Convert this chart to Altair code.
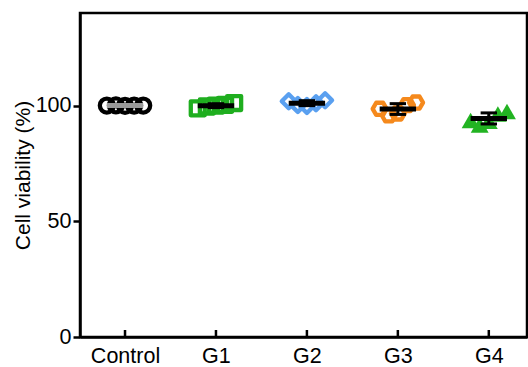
import altair as alt
import pandas as pd

groups = ["Control", "G1", "G2", "G3", "G4"]
control = [100.0, 100.1, 99.9, 100.0, 100.0]
g1 = [98.8, 99.6, 100.0, 100.3, 101.1]
g2 = [101.9, 100.2, 99.8, 101.0, 102.3]
g3 = [98.6, 95.8, 96.6, 100.2, 101.3]
g4 = [93.6, 91.6, 93.2, 96.4, 97.4]

series = [control, g1, g2, g3, g4]
colors = ["#000000", "#1fae1f", "#5aa0f0", "#f5891c", "#22b322"]
hexagon = "M-1,0L-0.5,-0.866L0.5,-0.866L1,0L0.5,0.866L-0.5,0.866Z"
shapes = ["circle", "square", "diamond", hexagon, "triangle-up"]

rows = []
for gi, (g, vals) in enumerate(zip(groups, series)):
    for r, v in enumerate(vals):
        rows.append({"group": g, "idx": gi, "rep": r, "value": v})
df = pd.DataFrame(rows)

FONT = "Liberation Sans"
xscale = alt.Scale(domain=[-0.495, 4.42], nice=False, zero=False)
yscale = alt.Scale(domain=[0, 140], nice=False)
label_expr = "[" + ",".join("'%s'" % g for g in groups) + "][datum.value]"

xaxis = alt.Axis(values=[0, 1, 2, 3, 4], labelExpr=label_expr, ticks=False,
                 labelFontSize=21.5, labelFont=FONT, labelColor="black",
                 labelPadding=8, domainWidth=2.5, domainColor="black",
                 grid=False, title=None)
yaxis = alt.Axis(values=[0, 50, 100], labelFontSize=21.5, labelFont=FONT,
                 labelColor="black", tickSize=7, tickWidth=2.5, tickColor="black",
                 domainWidth=2.5, domainColor="black", labelPadding=2, grid=False,
                 title="Cell viability (%)", titleFontSize=21, titleFont=FONT,
                 titleFontWeight="normal", titleColor="black", titlePadding=2)

base = alt.Chart(df)

pts = base.transform_calculate(xpos="datum.idx + (datum.rep - 2) * 0.1")

hollow = pts.transform_filter("datum.group != 'G4'").mark_point(
    filled=False, strokeWidth=4.3, size=195, opacity=1, strokeJoin="round"
).encode(
    x=alt.X("xpos:Q", scale=xscale, axis=xaxis),
    y=alt.Y("value:Q", scale=yscale, axis=yaxis),
    color=alt.Color("group:N", scale=alt.Scale(domain=groups, range=colors), legend=None),
    shape=alt.Shape("group:N", scale=alt.Scale(domain=groups, range=shapes), legend=None),
)

filled = pts.transform_filter("datum.group == 'G4'").mark_point(
    filled=True, size=320, opacity=1
).encode(
    x=alt.X("xpos:Q", scale=xscale, axis=xaxis),
    y=alt.Y("value:Q", scale=yscale, axis=yaxis),
    color=alt.Color("group:N", scale=alt.Scale(domain=groups, range=colors), legend=None),
    shape=alt.Shape("group:N", scale=alt.Scale(domain=groups, range=shapes), legend=None),
)

stats = base.transform_aggregate(
    mean="mean(value)", sd="stdev(value)", groupby=["group", "idx"]
).transform_calculate(
    lo="datum.mean - datum.sd",
    hi="datum.mean + datum.sd",
    xl="datum.idx - 0.2",
    xr="datum.idx + 0.2",
    cl="datum.idx - 0.09",
    cr="datum.idx + 0.09",
    col="datum.group == 'Control' ? '#9a9a9a' : '#000000'",
)
col = alt.Color("col:N", scale=None)

mean_rule = stats.mark_rule(strokeWidth=5).encode(
    x=alt.X("xl:Q", scale=xscale, axis=xaxis), x2="xr:Q",
    y=alt.Y("mean:Q", scale=yscale, axis=yaxis), color=col)
sd_rule = stats.mark_rule(strokeWidth=3).encode(
    x=alt.X("idx:Q", scale=xscale, axis=xaxis),
    y=alt.Y("lo:Q", scale=yscale, axis=yaxis), y2="hi:Q", color=col)
cap_lo = stats.mark_rule(strokeWidth=3).encode(
    x=alt.X("cl:Q", scale=xscale, axis=xaxis), x2="cr:Q",
    y=alt.Y("lo:Q", scale=yscale, axis=yaxis), color=col)
cap_hi = stats.mark_rule(strokeWidth=3).encode(
    x=alt.X("cl:Q", scale=xscale, axis=xaxis), x2="cr:Q",
    y=alt.Y("hi:Q", scale=yscale, axis=yaxis), color=col)

ticks_df = pd.DataFrame({"idx": list(range(len(groups)))})
xticks = alt.Chart(ticks_df).mark_rule(strokeWidth=2.5, color="black").encode(
    x=alt.X("idx:Q", scale=xscale, axis=xaxis),
    y=alt.value(324), y2=alt.value(317))

chart = alt.layer(
    xticks, hollow, filled, mean_rule, sd_rule, cap_lo, cap_hi
).properties(
    width=447, height=324,
    autosize=alt.AutoSizeParams(type="none"),
    padding={"left": 80, "top": 13, "right": 1, "bottom": 30},
    background="white",
).configure_view(stroke="black", strokeWidth=2.5)

chart.save("out.html", embed_options={"renderer": "svg", "actions": False})
